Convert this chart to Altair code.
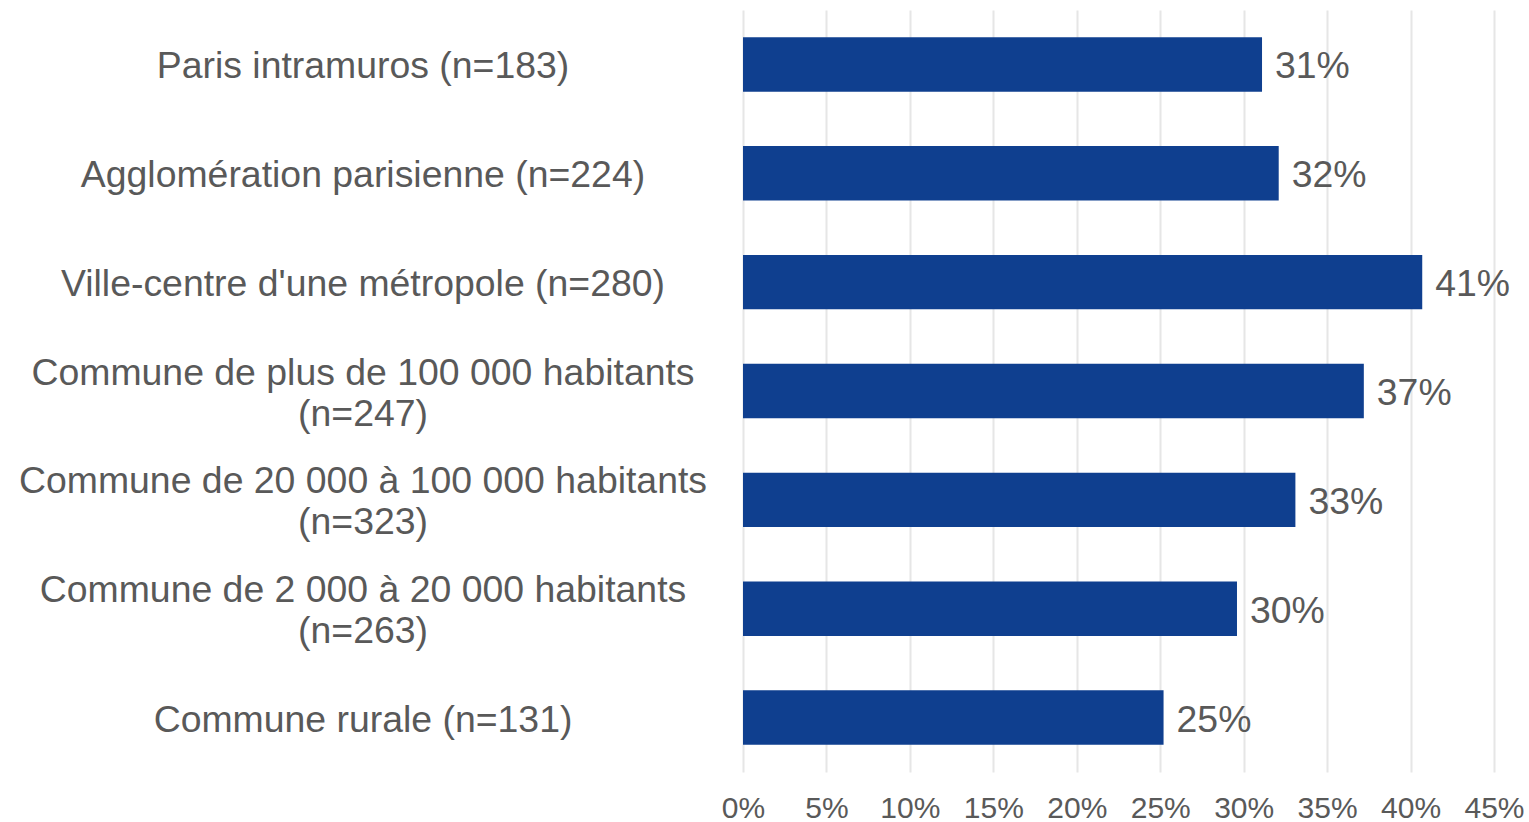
import altair as alt
import pandas as pd

categories = [
    "Paris intramuros (n=183)",
    "Agglomération parisienne (n=224)",
    "Ville-centre d'une métropole (n=280)",
    "Commune de plus de 100 000 habitants|(n=247)",
    "Commune de 20 000 à 100 000 habitants|(n=323)",
    "Commune de 2 000 à 20 000 habitants|(n=263)",
    "Commune rurale (n=131)",
]
values = [0.311, 0.321, 0.407, 0.372, 0.331, 0.296, 0.252]

df = pd.DataFrame({"cat": categories, "val": values})
df["lab"] = (df["val"] * 100).round().astype(int).astype(str) + "%"
parts = df["cat"].str.split("|")
df["line1"] = parts.str[0]
df["line2"] = parts.apply(lambda p: p[1] if len(p) > 1 else "")

FONT = "Liberation Sans"
GREY = "#595959"
FS = 37.4
LH = 41

ysc = alt.Scale(paddingInner=0.5, paddingOuter=0.25)
xsc = alt.Scale(domain=[0, 0.45], nice=False)
xaxis = alt.Axis(
    format=".0%",
    values=[i / 100 for i in range(0, 50, 5)],
    labelFontSize=30,
    labelFont=FONT,
    labelColor=GREY,
    labelPadding=21,
    ticks=False,
    domain=False,
    grid=True,
    gridColor="#e6e6e6",
    gridWidth=2,
    labelFlush=False,
)

y = alt.Y("cat:N", sort=categories, title=None, scale=ysc, axis=None)
x = alt.X("val:Q", title=None, scale=xsc, axis=xaxis)

base = alt.Chart(df)
bars = base.mark_bar(color="#0F3F8F").encode(x=x, y=y)

text = base.mark_text(
    align="left", baseline="middle", dx=13, dy=3, fontSize=FS, font=FONT, color=GREY
).encode(x=x, y=y, text="lab:N")


def cat_text(filter_expr, field, dy):
    return (
        base.transform_filter(filter_expr)
        .mark_text(align="center", baseline="middle", dy=dy, fontSize=FS, font=FONT, color=GREY)
        .encode(x=alt.value(-380), y=y, text=f"{field}:N")
    )


single = cat_text("datum.line2 == ''", "line1", 3)
first = cat_text("datum.line2 != ''", "line1", 3 - LH / 2)
second = cat_text("datum.line2 != ''", "line2", 3 + LH / 2)

chart = (
    alt.layer(bars, text, single, first, second)
    .properties(
        width=751,
        height=762,
        autosize=alt.AutoSizeParams(type="none"),
        padding={"left": 743, "top": 10, "right": 35, "bottom": 50},
    )
    .configure(background="white")
    .configure_view(stroke="transparent", strokeWidth=0)
)

chart.save("out.html", embed_options={"renderer": "svg", "actions": False})
